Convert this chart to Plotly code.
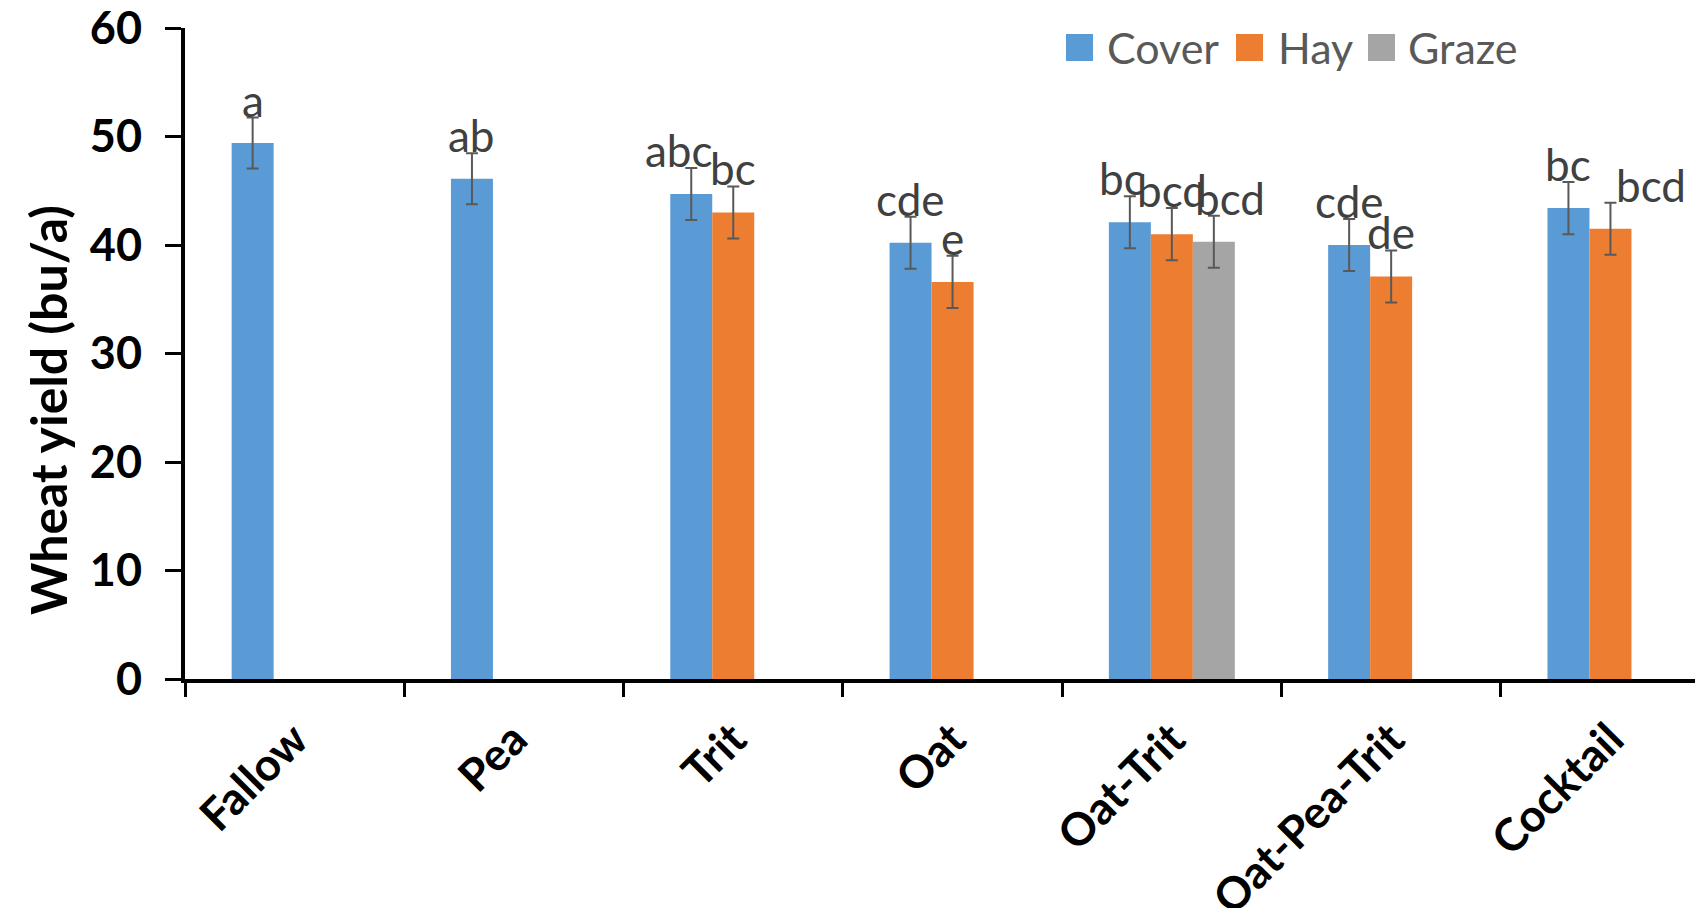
import plotly.graph_objects as go

categories = ["Fallow", "Pea", "Trit", "Oat", "Oat-Trit", "Oat-Pea-Trit", "Cocktail"]
series_names = ["Cover", "Hay", "Graze"]
cover = [49.4, 46.1, 44.7, 40.2, 42.1, 40.0, 43.4]
hay = [None, None, 43.0, 36.6, 41.0, 37.1, 41.5]
graze = [None, None, None, None, 40.3, None, None]
cover_err = [2.35, 2.35, 2.4, 2.4, 2.4, 2.4, 2.4]
hay_err = [None, None, 2.4, 2.4, 2.4, 2.4, 2.4]
graze_err = [None, None, None, None, 2.4, None, None]
cover_letters = ["a", "ab", "abc", "cde", "bc", "cde", "bc"]
hay_letters = [None, None, "bc", "e", "bcd", "de", "bcd"]
graze_letters = [None, None, None, None, "bcd", None, None]
y_ticks = [0, 10, 20, 30, 40, 50, 60]

colors = ["#5B9BD5", "#ED7D31", "#A5A5A5"]
values = [cover, hay, graze]
errs = [cover_err, hay_err, graze_err]
letters = [cover_letters, hay_letters, graze_letters]

# page geometry (the page body has an 8px margin)
OFF = 8
L, R, T, B = 185, 1703, 28, 679
W, H = 1703 - OFF, 908 - OFF
xmax = -0.5 + (R - L) / 219.3

def px2paper_x(px):
    return (px - L) / (R - L)

def px2paper_y(py):
    return (B - py) / (B - T)

fig = go.Figure()
for name, vals, er, col in zip(series_names, values, errs, colors):
    fig.add_trace(go.Bar(
        x=categories, y=vals, name=name,
        marker=dict(color=col, line=dict(width=0)),
        error_y=dict(type="data", array=[e if e is not None else 0 for e in er],
                     color="#595959", thickness=2, width=6, visible=True),
        showlegend=False,
    ))

slot = 42 / 219.3
offsets = [-slot, 0.0, slot]
# manual nudges (pixels) for overlapping labels
nudge = {(0, 2): -12, (0, 4): -8, (2, 4): 16, (1, 6): 41}

annotations = []
for s in range(3):
    for i in range(len(categories)):
        lab = letters[s][i]
        if lab is None:
            continue
        top = values[s][i] + errs[s][i]
        annotations.append(dict(
            x=i + offsets[s], y=top, xref="x", yref="y", text=lab, showarrow=False,
            xanchor="center", yanchor="bottom", yshift=-10, xshift=nudge.get((s, i), 0),
            font=dict(family="Lato", size=44, color="#404040"),
        ))

# legend drawn manually with large swatches
legend_x = [1066, 1236, 1368]
legend_tx = [1105, 1276, 1406]
shapes = []
for name, col, lx, tx in zip(series_names, colors, legend_x, legend_tx):
    shapes.append(dict(type="rect", xref="paper", yref="paper",
                       x0=px2paper_x(lx), x1=px2paper_x(lx + 27),
                       y0=px2paper_y(61), y1=px2paper_y(34),
                       fillcolor=col, line=dict(width=0)))
    annotations.append(dict(x=px2paper_x(tx), y=px2paper_y(47), xref="paper", yref="paper",
                            text=name, showarrow=False, xanchor="left", yanchor="middle",
                            font=dict(family="Lato", size=43, color="#595959")))

annotations.append(dict(x=px2paper_x(48), y=px2paper_y(410), xref="paper", yref="paper",
                        text="<b>Wheat yield (bu/a)</b>", showarrow=False, textangle=-90,
                        xanchor="center", yanchor="middle",
                        font=dict(family="Lato", size=50, color="#000000")))

fig.update_layout(
    width=W, height=H, autosize=False,
    margin=dict(l=L - OFF, r=W - (R - OFF), t=T - OFF, b=H - (B - OFF), pad=0, autoexpand=False),
    paper_bgcolor="white", plot_bgcolor="white",
    barmode="group", bargap=0.4255, bargroupgap=0,
    showlegend=False,
    shapes=shapes, annotations=annotations,
    xaxis=dict(
        type="category", range=[-0.5, xmax], automargin=False,
        showline=True, linecolor="black", linewidth=4,
        ticks="outside", tickson="boundaries", ticklen=14, tickwidth=3, tickcolor="black",
        tickangle=-45, showgrid=False, zeroline=False,
        tickfont=dict(family="Lato", size=45, color="black", weight="bold"),
        ticklabelstandoff=12, ticklabeloverflow="allow",
    ),
    yaxis=dict(
        range=[0, 60], tickvals=y_ticks, automargin=False,
        showline=True, linecolor="black", linewidth=4,
        ticks="outside", ticklen=16, tickwidth=3, tickcolor="black",
        showgrid=False, zeroline=False,
        tickfont=dict(family="Lato", size=45, color="black", weight="bold"),
        ticklabelstandoff=14, ticklabeloverflow="allow",
    ),
)

fig.write_html("out.html")
